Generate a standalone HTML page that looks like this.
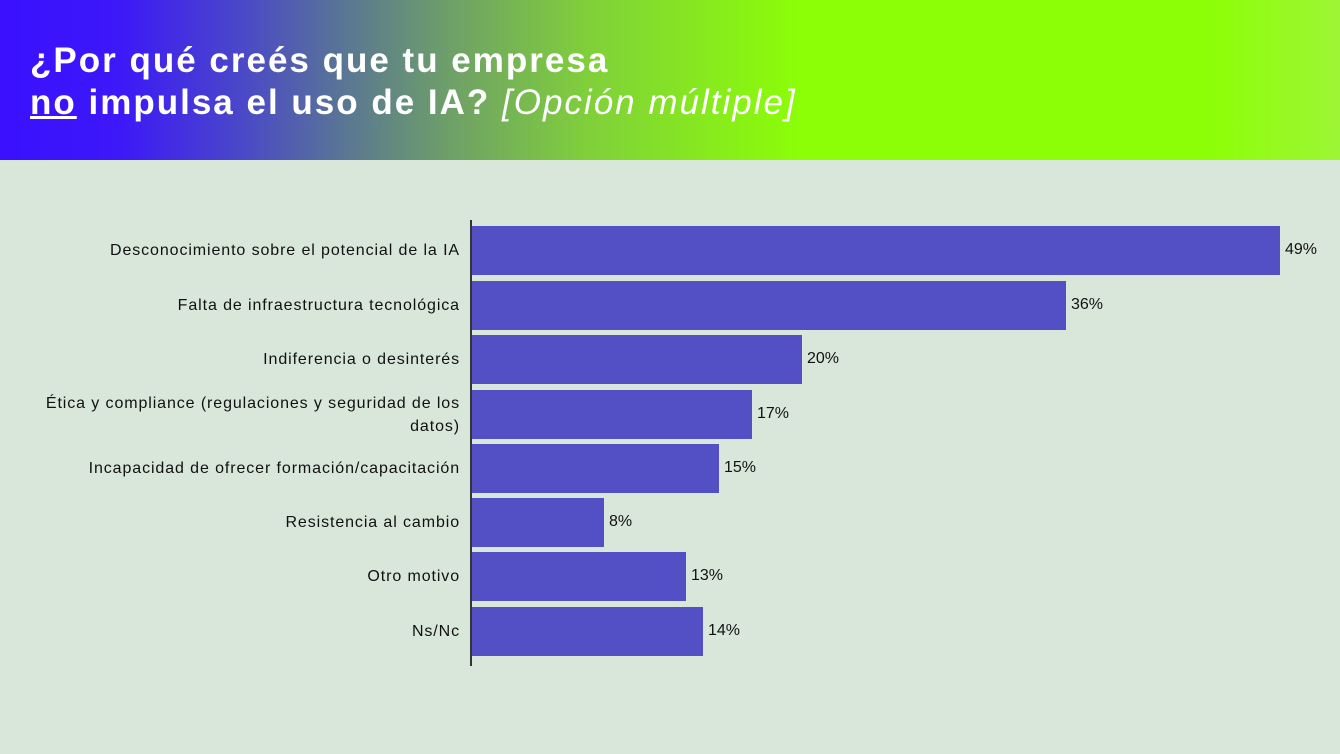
<!DOCTYPE html><html><head><meta charset="utf-8"><style>
body{margin:0;width:1340px;height:754px;background:#d9e6da;font-family:"Liberation Sans",sans-serif;position:relative;overflow:hidden}
.hd{position:absolute;left:0;top:0;width:1340px;height:160px;background:linear-gradient(90deg,#3a10ff 0%,#3d18f8 9%,#4a48c8 18%,#5a7892 26%,#6fa266 34%,#80d03a 44%,#8cff06 60%,#8cff06 90%,#9ef536 100%)}
.t{position:absolute;left:30px;top:40px;color:#fff;font-weight:bold;font-size:35px;line-height:42px;letter-spacing:2px}
.t i{font-weight:normal}
.ax{position:absolute;left:470px;top:220px;width:2px;height:446px;background:#333}
.b{position:absolute;left:472px;height:49px;background:#5250c4}
.v{position:absolute;font-size:16px;color:#111}
.l{position:absolute;right:880px;font-size:16px;color:#111;text-align:right;line-height:23px;letter-spacing:0.9px}
</style></head><body>
<div class="hd"></div>
<div class="t">¿Por qué creés que tu empresa<br><u>no</u> impulsa el uso de IA? <i>[Opción múltiple]</i></div>
<div class="ax"></div>
<div class="b" style="top:226px;width:808px"></div><div class="v" style="left:1285px;top:241px">49%</div>
<div class="b" style="top:281px;width:594px"></div><div class="v" style="left:1071px;top:296px">36%</div>
<div class="b" style="top:335px;width:330px"></div><div class="v" style="left:807px;top:350px">20%</div>
<div class="b" style="top:390px;width:280px"></div><div class="v" style="left:757px;top:405px">17%</div>
<div class="b" style="top:444px;width:247px"></div><div class="v" style="left:724px;top:459px">15%</div>
<div class="b" style="top:498px;width:132px"></div><div class="v" style="left:609px;top:513px">8%</div>
<div class="b" style="top:552px;width:214px"></div><div class="v" style="left:691px;top:567px">13%</div>
<div class="b" style="top:607px;width:231px"></div><div class="v" style="left:708px;top:622px">14%</div>
<div class="l" style="top:239px">Desconocimiento sobre el potencial de la IA</div>
<div class="l" style="top:294px">Falta de infraestructura tecnológica</div>
<div class="l" style="top:348px">Indiferencia o desinterés</div>
<div class="l" style="top:392px">Ética y compliance (regulaciones y seguridad de los<br>datos)</div>
<div class="l" style="top:457px">Incapacidad de ofrecer formación/capacitación</div>
<div class="l" style="top:511px">Resistencia al cambio</div>
<div class="l" style="top:565px">Otro motivo</div>
<div class="l" style="top:620px">Ns/Nc</div>
</body></html>
